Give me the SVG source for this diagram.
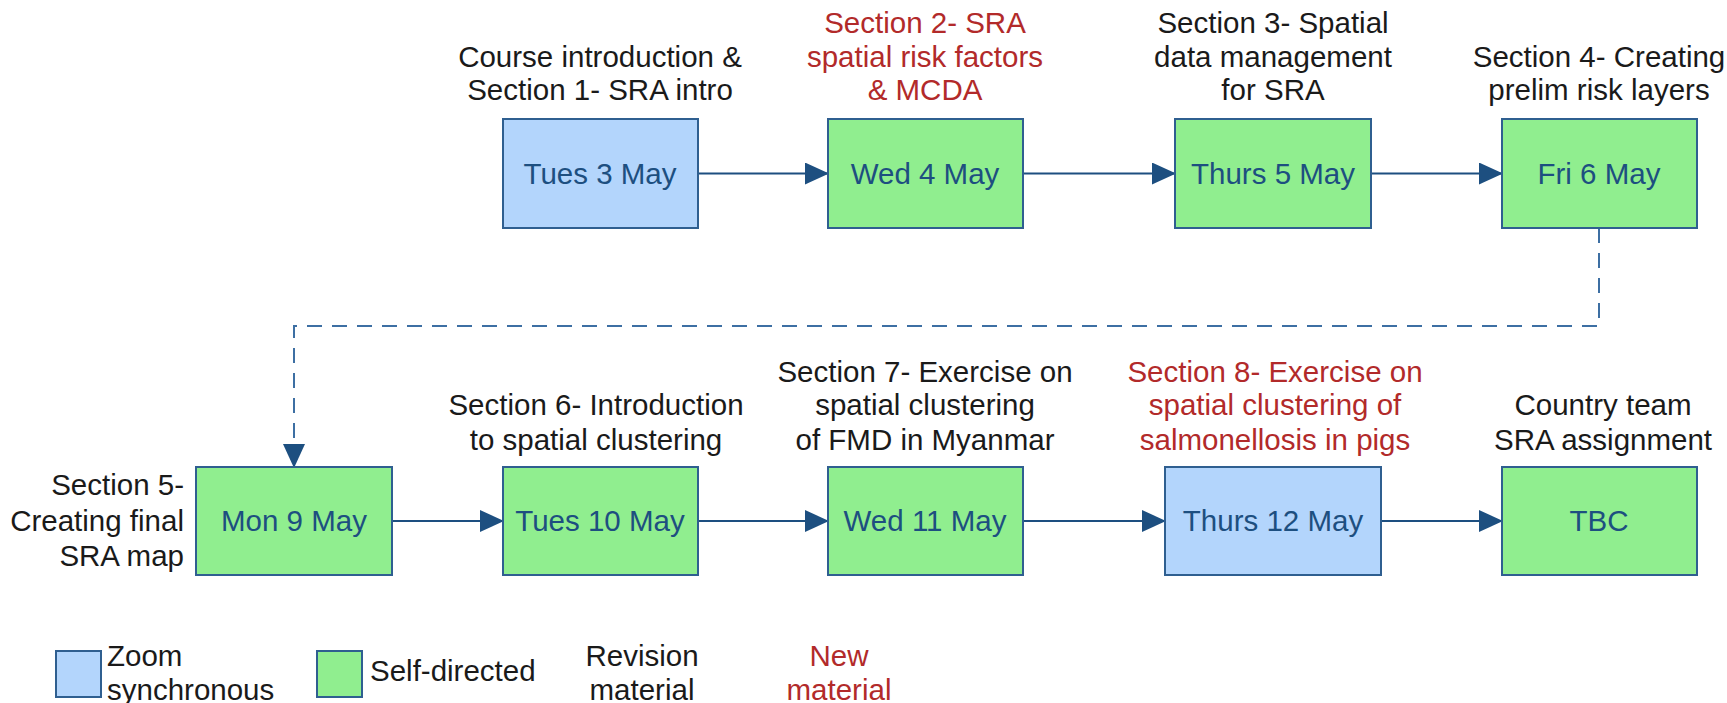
<svg xmlns="http://www.w3.org/2000/svg" width="1727" height="703" viewBox="0 0 1727 703">
<style>
.box{stroke:#2f5f90;stroke-width:2}
.zoom{fill:#b3d5fc}
.self{fill:#90ee8f}
.date{font-family:"Liberation Sans",Arial,sans-serif;font-size:29.5px;fill:#1d4f80;text-anchor:middle}
.lbl{font-family:"Liberation Sans",Arial,sans-serif;font-size:29.5px;fill:#1a1a1a;text-anchor:middle}
.new{fill:#b22a2a}
.conn{stroke:#1d4f80;stroke-width:2;fill:none}
.dash{stroke:#3d6fa3;stroke-width:2;fill:none;stroke-dasharray:15,10}
</style>
<defs>
<marker id="arr" markerWidth="24" markerHeight="22" refX="23" refY="11" orient="auto" markerUnits="userSpaceOnUse">
<path d="M0,0 L24,11 L0,22 Z" fill="#1d4f80"/>
</marker>
</defs>
<rect width="1727" height="703" fill="#ffffff"/>
<g id="connectors">
<line class="conn" x1="698" y1="173.5" x2="828" y2="173.5" marker-end="url(#arr)"/>
<line class="conn" x1="1023" y1="173.5" x2="1175" y2="173.5" marker-end="url(#arr)"/>
<line class="conn" x1="1371" y1="173.5" x2="1502" y2="173.5" marker-end="url(#arr)"/>
<path class="dash" d="M1599,228 V326 H294 V445"/>
<line class="conn" x1="294" y1="445" x2="294" y2="467" marker-end="url(#arr)"/>
<line class="conn" x1="392" y1="521" x2="503" y2="521" marker-end="url(#arr)"/>
<line class="conn" x1="698" y1="521" x2="828" y2="521" marker-end="url(#arr)"/>
<line class="conn" x1="1023" y1="521" x2="1165" y2="521" marker-end="url(#arr)"/>
<line class="conn" x1="1381" y1="521" x2="1502" y2="521" marker-end="url(#arr)"/>
</g>
<g id="n-tues3">
<text class="lbl" x="600" y="67">Course introduction &amp;</text>
<text class="lbl" x="600" y="100">Section 1- SRA intro</text>
<rect class="box zoom" x="503" y="119" width="195" height="109"/>
<text class="date" x="600" y="184">Tues 3 May</text>
</g>
<g id="n-wed4">
<text class="lbl new" x="925" y="33">Section 2- SRA</text>
<text class="lbl new" x="925" y="67">spatial risk factors</text>
<text class="lbl new" x="925" y="100">&amp; MCDA</text>
<rect class="box self" x="828" y="119" width="195" height="109"/>
<text class="date" x="925" y="184">Wed 4 May</text>
</g>
<g id="n-thurs5">
<text class="lbl" x="1273" y="33">Section 3- Spatial</text>
<text class="lbl" x="1273" y="67">data management</text>
<text class="lbl" x="1273" y="100">for SRA</text>
<rect class="box self" x="1175" y="119" width="196" height="109"/>
<text class="date" x="1273" y="184">Thurs 5 May</text>
</g>
<g id="n-fri6">
<text class="lbl" x="1599" y="67">Section 4- Creating</text>
<text class="lbl" x="1599" y="100">prelim risk layers</text>
<rect class="box self" x="1502" y="119" width="195" height="109"/>
<text class="date" x="1599" y="184">Fri 6 May</text>
</g>
<g id="n-mon9">
<text class="lbl" x="184" y="495" style="text-anchor:end">Section 5-</text>
<text class="lbl" x="184" y="531" style="text-anchor:end">Creating final</text>
<text class="lbl" x="184" y="566" style="text-anchor:end">SRA map</text>
<rect class="box self" x="196" y="467" width="196" height="108"/>
<text class="date" x="294" y="531">Mon 9 May</text>
</g>
<g id="n-tues10">
<text class="lbl" x="596" y="415">Section 6- Introduction</text>
<text class="lbl" x="596" y="450">to spatial clustering</text>
<rect class="box self" x="503" y="467" width="195" height="108"/>
<text class="date" x="600" y="531">Tues 10 May</text>
</g>
<g id="n-wed11">
<text class="lbl" x="925" y="382">Section 7- Exercise on</text>
<text class="lbl" x="925" y="415">spatial clustering</text>
<text class="lbl" x="925" y="450">of FMD in Myanmar</text>
<rect class="box self" x="828" y="467" width="195" height="108"/>
<text class="date" x="925" y="531">Wed 11 May</text>
</g>
<g id="n-thurs12">
<text class="lbl new" x="1275" y="382">Section 8- Exercise on</text>
<text class="lbl new" x="1275" y="415">spatial clustering of</text>
<text class="lbl new" x="1275" y="450">salmonellosis in pigs</text>
<rect class="box zoom" x="1165" y="467" width="216" height="108"/>
<text class="date" x="1273" y="531">Thurs 12 May</text>
</g>
<g id="n-tbc">
<text class="lbl" x="1603" y="415">Country team</text>
<text class="lbl" x="1603" y="450">SRA assignment</text>
<rect class="box self" x="1502" y="467" width="195" height="108"/>
<text class="date" x="1599" y="531">TBC</text>
</g>
<g id="legend">
<rect class="box zoom" x="56" y="651" width="45" height="46"/>
<text class="lbl" x="107" y="666" style="text-anchor:start">Zoom</text>
<text class="lbl" x="107" y="700" style="text-anchor:start">synchronous</text>
<rect class="box self" x="317" y="651" width="45" height="46"/>
<text class="lbl" x="370" y="681" style="text-anchor:start">Self-directed</text>
<text class="lbl" x="642" y="666">Revision</text>
<text class="lbl" x="642" y="700">material</text>
<text class="lbl new" x="839" y="666">New</text>
<text class="lbl new" x="839" y="700">material</text>
</g>
</svg>
